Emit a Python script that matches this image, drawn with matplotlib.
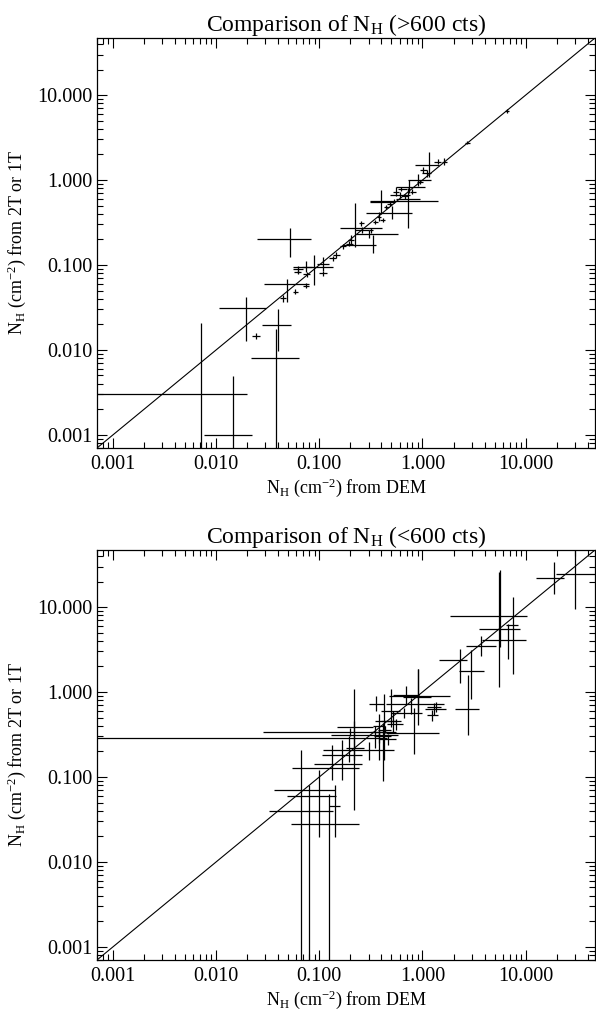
import numpy as np
import matplotlib
matplotlib.use("Agg")
import matplotlib.pyplot as plt
from matplotlib.ticker import FormatStrFormatter, NullFormatter, LogLocator

plt.rcParams['font.family'] = 'Liberation Serif'
plt.rcParams['mathtext.fontset'] = 'custom'
plt.rcParams['mathtext.rm'] = 'Liberation Serif'
plt.rcParams['mathtext.it'] = 'Liberation Serif:italic'

# ---- >600 cts (x from DEM, y from 2T/1T), with lower/upper bounds ----
hi_x   = [0.0072, 0.0147, 0.0195, 0.0244, 0.0396, 0.0382, 0.0488, 0.0583, 0.0449, 0.0745,
          0.0618, 0.0745, 0.052, 0.0895, 0.108, 0.076, 0.109, 0.0618, 0.145, 0.135,
          0.195, 0.203, 0.329, 0.305, 0.222, 0.253, 0.316, 0.381, 0.411, 0.506,
          0.443, 0.396, 0.533, 0.73, 0.553, 0.60, 0.618, 0.745, 0.80, 0.90,
          1.02, 1.16, 1.40, 1.63, 2.73, 6.6, 0.17, 0.26, 0.35, 0.48,
          0.95, 1.10, 0.68]
hi_xlo = [1e-6, 0.00755, 0.0106, 0.0225, 0.0277, 0.0219, 0.0288, 0.055, 0.042, 0.069,
          0.055, 0.068, 0.025, 0.0553, 0.095, 0.070, 0.100, 0.057, 0.135, 0.125,
          0.18, 0.19, 0.169, 0.227, 0.16, 0.24, 0.30, 0.36, 0.39, 0.283,
          0.42, 0.31, 0.312, 0.55, 0.52, 0.48, 0.58, 0.55, 0.75, 0.72,
          0.95, 0.85, 1.30, 1.55, 2.60, 6.3, 0.16, 0.22, 0.33, 0.45,
          0.88, 1.00, 0.64]
hi_xhi = [0.0198, 0.0224, 0.0306, 0.0265, 0.0533, 0.0641, 0.080, 0.062, 0.048, 0.080,
          0.070, 0.085, 0.083, 0.135, 0.125, 0.082, 0.118, 0.066, 0.16, 0.145,
          0.21, 0.215, 0.354, 0.574, 0.405, 0.27, 0.335, 0.40, 0.43, 0.80,
          0.47, 0.53, 1.40, 0.95, 0.59, 0.75, 0.70, 1.05, 0.86, 1.2,
          1.10, 1.45, 1.50, 1.72, 2.86, 6.9, 0.18, 0.30, 0.37, 0.51,
          1.02, 1.20, 0.72]
hi_y   = [0.0030, 0.0010, 0.0309, 0.0147, 0.0197, 0.0080, 0.0598, 0.0485, 0.0406, 0.0566,
          0.089, 0.0955, 0.20, 0.0957, 0.103, 0.078, 0.080, 0.0836, 0.131, 0.12,
          0.177, 0.197, 0.172, 0.232, 0.275, 0.31, 0.258, 0.371, 0.339, 0.413,
          0.478, 0.556, 0.566, 0.60, 0.73, 0.667, 0.783, 0.835, 0.73, 1.0,
          1.31, 1.50, 1.64, 1.64, 2.75, 6.5, 0.165, 0.26, 0.32, 0.52,
          0.95, 1.2, 0.64]
hi_ylo = [1e-6, 1e-6, 0.0129, 0.0135, 0.0098, 1e-6, 0.037, 0.045, 0.037, 0.053,
          0.080, 0.083, 0.125, 0.058, 0.085, 0.073, 0.075, 0.079, 0.12, 0.112,
          0.165, 0.17, 0.137, 0.21, 0.164, 0.29, 0.24, 0.33, 0.32, 0.35,
          0.45, 0.40, 0.53, 0.27, 0.65, 0.62, 0.75, 0.70, 0.68, 0.85,
          1.2, 1.09, 1.55, 1.5, 2.62, 6.2, 0.155, 0.24, 0.30, 0.49,
          0.90, 1.1, 0.60]
hi_yhi = [0.0206, 0.00494, 0.0424, 0.016, 0.0301, 0.0175, 0.068, 0.052, 0.044, 0.061,
          0.097, 0.11, 0.27, 0.131, 0.125, 0.083, 0.086, 0.088, 0.142, 0.128,
          0.19, 0.225, 0.225, 0.255, 0.53, 0.33, 0.275, 0.42, 0.36, 0.49,
          0.51, 0.76, 0.60, 0.80, 0.82, 0.72, 0.82, 1.0, 0.79, 1.18,
          1.42, 2.15, 1.75, 1.8, 2.9, 6.8, 0.175, 0.28, 0.34, 0.55,
          1.0, 1.3, 0.68]

# ---- <600 cts ----
lo_x   = [0.38, 0.0665, 0.079, 0.125, 0.0986, 0.143, 0.133, 0.166, 0.195, 0.219,
          0.20, 0.219, 0.354, 0.427, 0.494, 0.692, 0.897, 0.83, 1.3, 0.898,
          0.774, 1.35, 1.24, 0.667, 0.514, 0.35, 0.30, 0.376, 0.41, 0.46,
          0.55, 0.38, 0.43, 29.9, 18.9, 5.46, 5.62, 7.57, 6.67, 3.68,
          2.31, 2.95, 2.74]
lo_xlo = [1e-6, 0.0362, 0.049, 0.0533, 0.0324, 0.125, 0.054, 0.088, 0.106, 0.18,
          0.0283, 0.15, 0.30, 0.35, 0.40, 0.52, 0.65, 0.44, 1.05, 0.477,
          0.44, 1.1, 1.1, 0.5, 0.40, 0.13, 0.108, 0.33, 0.34, 0.38,
          0.45, 0.32, 0.37, 19.6, 12.6, 1.86, 3.5, 6.5, 3.8, 2.67,
          1.46, 2.27, 2.08]
lo_xhi = [0.45, 0.143, 0.145, 0.244, 0.137, 0.16, 0.244, 0.26, 0.26, 0.27,
          0.55, 0.33, 0.42, 0.55, 0.60, 0.92, 1.2, 1.46, 1.7, 1.85,
          1.6, 1.5, 1.4, 1.0, 0.62, 0.574, 0.533, 0.43, 0.5, 0.55,
          0.65, 0.45, 0.50, 60.0, 23.6, 10.3, 8.9, 8.5, 10.0, 5.14,
          2.73, 3.96, 3.55]
lo_y   = [0.29, 0.0697, 0.0593, 0.0277, 0.0398, 0.045, 0.128, 0.1435, 0.18, 0.22,
          0.339, 0.388, 0.73, 0.45, 0.60, 0.914, 0.875, 0.33, 0.637, 0.891,
          0.718, 0.667, 0.532, 0.568, 0.45, 0.31, 0.206, 0.40, 0.30, 0.28,
          0.42, 0.34, 0.36, 24.7, 22.2, 7.78, 5.47, 6.1, 4.13, 3.45,
          2.40, 1.77, 0.632]
lo_ylo = [0.25, 1e-6, 1e-6, 1e-6, 0.0197, 0.0197, 0.0914, 0.093, 0.15, 0.0405,
          0.30, 0.157, 0.60, 0.16, 0.388, 0.70, 0.58, 0.188, 0.54, 0.406,
          0.55, 0.58, 0.45, 0.50, 0.33, 0.22, 0.16, 0.16, 0.09, 0.24,
          0.36, 0.31, 0.33, 9.57, 14.4, 1.15, 3.39, 1.64, 2.47, 2.63,
          1.28, 0.836, 0.31]
lo_yhi = [0.33, 0.206, 0.08, 0.0626, 0.12, 0.0798, 0.236, 0.27, 0.30, 0.46,
          0.38, 1.10, 0.90, 0.95, 1.10, 1.18, 1.88, 0.64, 0.75, 1.88,
          0.85, 0.77, 0.62, 0.65, 0.60, 0.40, 0.26, 0.55, 0.43, 0.32,
          0.48, 0.37, 0.40, 48.6, 33.9, 25.8, 27.5, 13.1, 6.37, 4.53,
          3.24, 3.15, 1.57]

lims = (0.0007, 47.0)
fig = plt.figure(figsize=(5.96, 10.13), dpi=100)
ax1 = fig.add_axes([97/596, 1-448/1013, 498/596, 410/1013])
ax2 = fig.add_axes([97/596, 1-960/1013, 498/596, 410/1013])


def panel(ax, x, xlo, xhi, y, ylo, yhi, title):
    x, xlo, xhi = np.array(x), np.array(xlo), np.array(xhi)
    y, ylo, yhi = np.array(y), np.array(ylo), np.array(yhi)
    ax.errorbar(x, y, xerr=[x - xlo, xhi - x], yerr=[y - ylo, yhi - y],
                fmt='none', ecolor='k', elinewidth=0.9, capsize=0)
    ax.plot([1e-4, 1e3], [1e-4, 1e3], color='k', lw=0.8)
    ax.set_xscale('log')
    ax.set_yscale('log')
    ax.set_xlim(lims)
    ax.set_ylim(lims)
    for axis in (ax.xaxis, ax.yaxis):
        axis.set_major_locator(LogLocator(base=10))
        axis.set_minor_locator(LogLocator(base=10, subs=np.arange(2, 10)))
        axis.set_major_formatter(FormatStrFormatter('%.3f'))
        axis.set_minor_formatter(NullFormatter())
    ax.tick_params(which='both', direction='in', top=True, right=True, labelsize=14.5, width=0.8)
    ax.tick_params(which='major', length=7, pad=5)
    ax.tick_params(axis='y', which='major', pad=3)
    ax.tick_params(which='minor', length=4)
    for s in ax.spines.values():
        s.set_linewidth(0.9)
    ax.set_title(title, fontsize=17, pad=4)
    ax.set_xlabel(r'N$_\mathregular{H}$ (cm$^\mathregular{-2}$) from DEM', fontsize=13, labelpad=2)
    ax.set_ylabel(r'N$_\mathregular{H}$ (cm$^\mathregular{-2}$) from 2T or 1T', fontsize=13)
    ax.yaxis.set_label_coords(-0.138, 0.5)


panel(ax1, hi_x, hi_xlo, hi_xhi, hi_y, hi_ylo, hi_yhi, r'Comparison of N$_\mathregular{H}$ (>600 cts)')
panel(ax2, lo_x, lo_xlo, lo_xhi, lo_y, lo_ylo, lo_yhi, r'Comparison of N$_\mathregular{H}$ (<600 cts)')

fig.savefig('out.png', dpi=100)
